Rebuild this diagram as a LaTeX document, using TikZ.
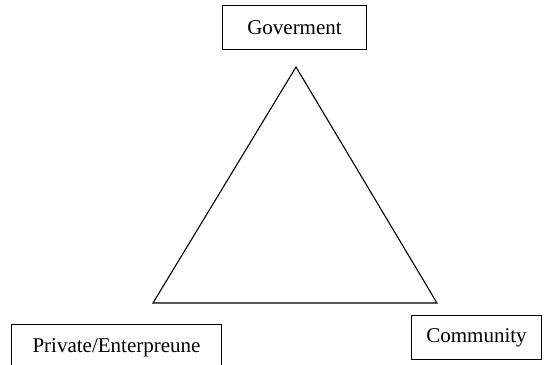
\documentclass[tikz,border=0pt]{standalone}
\usepackage{fontspec}
\setmainfont{Liberation Serif}
\usetikzlibrary{positioning}

\begin{document}
\begin{tikzpicture}[
        x=0.5pt, y=-0.5pt,
        every node/.style={font=\fontsize{10.5}{12}\selectfont},
        actor/.style={draw, line width=0.5pt, inner sep=0pt, minimum height=22pt, anchor=north west}
        ]

        \useasboundingbox (0,0) rectangle (545,364);
        \clip (0,0) rectangle (545,364);

        % boxes
        \node[actor, minimum width=72pt] (goverment) at (222,5) {Goverment};
        \node[actor, minimum width=105pt, minimum height=23pt] (private) at (11,324) {Private/Enterpreune};
        \node[actor, minimum width=65pt] (community) at (411,315) {Community};

        % triangle
        \coordinate (apex) at (296,67);
        \coordinate (baseleft) at (153,303);
        \coordinate (baseright) at (437,303);
        \draw[line width=0.55pt] (apex) -- (baseleft) -- (baseright) -- cycle;

\end{tikzpicture}
\end{document}
